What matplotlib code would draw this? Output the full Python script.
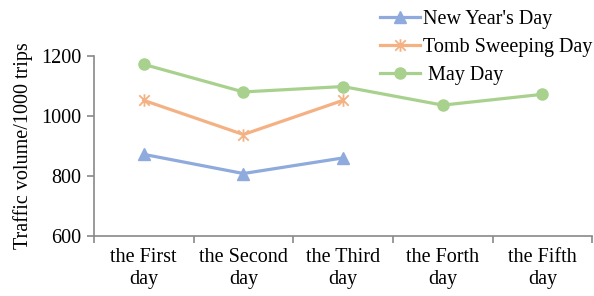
import matplotlib.pyplot as plt
from matplotlib.path import Path

plt.rcParams['font.family'] = ['Liberation Serif', 'DejaVu Serif']

days = ['the First\nday', 'the Second\nday', 'the Third\nday', 'the Forth\nday', 'the Fifth\nday']
new_year = [872, 808, 860]
tomb_sweeping = [1052, 938, 1052]
may_day = [1172, 1080, 1098, 1036, 1072]

# Excel style star marker: an X with a vertical bar
star = Path([(-1, -1), (1, 1), (-1, 1), (1, -1), (0, -1.2), (0, 1.2)],
            [Path.MOVETO, Path.LINETO, Path.MOVETO, Path.LINETO, Path.MOVETO, Path.LINETO])

fs = 14.5
fig = plt.figure(figsize=(5.94, 2.96), dpi=100)
ax = fig.add_axes([0.158, 0.203, 0.839, 0.608])

x = list(range(len(days)))
ax.plot(x[:len(new_year)], new_year, color='#8FAADC', lw=2.3, marker='^', ms=8,
        label="New Year's Day")
ax.plot(x[:len(tomb_sweeping)], tomb_sweeping, color='#F4B183', lw=2.3, marker=star, ms=9,
        mew=1.3, label='Tomb Sweeping Day')
ax.plot(x, may_day, color='#A9D18E', lw=2.3, marker='o', ms=8, label=' May Day')

ax.set_xlim(-0.5, 4.5)
ax.set_ylim(600, 1200)
ax.set_yticks([600, 800, 1000, 1200])
ax.set_xticks(x)
ax.set_xticklabels(days, fontsize=fs, linespacing=1.2)
ax.set_xticks([i - 0.5 for i in range(len(days) + 1)], minor=True)
ax.tick_params(axis='x', which='major', length=0, pad=9)
ax.tick_params(axis='x', which='minor', length=5, color='#898989', width=1.2)
ax.tick_params(axis='y', length=5, color='#898989', width=1.2, labelsize=fs, pad=4)
ax.set_ylabel('Traffic volume/1000 trips', fontsize=fs, labelpad=6)

for s in ['top', 'right']:
    ax.spines[s].set_visible(False)
for s in ['left', 'bottom']:
    ax.spines[s].set_color('#898989')
    ax.spines[s].set_linewidth(1.2)

fig.legend(loc='upper left', bbox_to_anchor=(0.622, 1.0), frameon=False, fontsize=fs,
           handlelength=2.0, labelspacing=0.45, handletextpad=0.15, borderaxespad=0.1)

fig.savefig('out.png')
